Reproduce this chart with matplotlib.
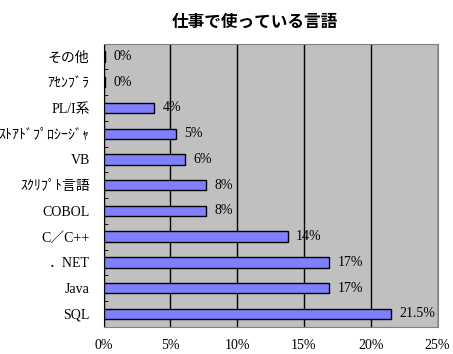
import matplotlib.pyplot as plt
import numpy as np

plt.rcParams['font.family'] = ['Liberation Serif', 'Noto Sans CJK JP']

# data (top to bottom as in the chart)
langs = ['その他', 'ｱｾﾝﾌﾞﾗ', 'PL/I系', 'ｽﾄｱﾄﾞﾌﾟﾛｼｰｼﾞｬ', 'VB', 'ｽｸﾘﾌﾟﾄ言語',
         'COBOL', 'C／C++', '．NET', 'Java', 'SQL']
share = [0.1, 0.1, 3.8, 5.4, 6.1, 7.7, 7.7, 13.8, 16.9, 16.9, 21.5]
share_labels = ['0%', '0%', '4%', '5%', '6%', '8%', '8%', '14%', '17%', '17%', '21.5%']
xticks = [0, 5, 10, 15, 20, 25]

fig = plt.figure(figsize=(4.53, 3.54), dpi=100)
ax = fig.add_axes([0.2285, 0.077, 0.7373, 0.800])
ax.set_facecolor('#C0C0C0')

y = np.arange(len(langs))
ax.barh(y, share, height=0.4, color='#8080FF', edgecolor='black', linewidth=1, zorder=3)
for yi, v, t in zip(y, share, share_labels):
    ax.annotate(t, (v, yi), xytext=(6, 0), textcoords='offset points',
                va='center', ha='left', fontsize=10, zorder=4)

ax.set_xlim(0, 25)
ax.set_ylim(len(langs) - 0.5, -0.5)
ax.set_xticks(xticks)
ax.set_xticklabels([f'{t}%' for t in xticks], fontsize=10)
ax.tick_params(axis='x', length=0, pad=9)
ax.set_yticks(y)
ax.set_yticklabels(langs, fontsize=10)
ax.tick_params(axis='y', which='major', length=0, pad=10)
ax.set_yticks(y[:-1] + 0.5, minor=True)
ax.tick_params(axis='y', which='minor', direction='in', length=3, color='black')
ax.grid(axis='x', color='black', linewidth=1, zorder=1)

ax.spines['left'].set_color('black')
for s in ['top', 'right', 'bottom']:
    ax.spines[s].set_color('#808080')

fig.text(0.563, 0.965, '仕事で使っている言語', ha='center', va='top',
         fontsize=12, fontweight='bold', family=['Noto Sans CJK JP'])

fig.savefig('out.png')
